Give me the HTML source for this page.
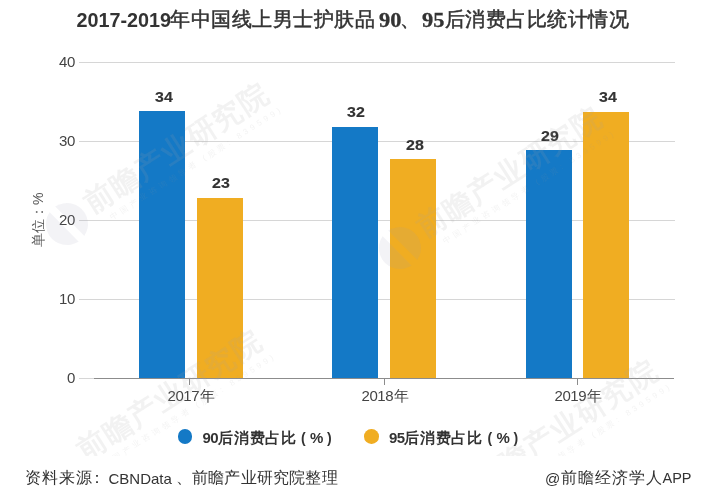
<!DOCTYPE html>
<html><head><meta charset="utf-8">
<style>
*{margin:0;padding:0;box-sizing:border-box}
html,body{width:717px;height:500px;background:#fff;overflow:hidden}
body{position:relative;font-family:"Liberation Sans",sans-serif;color:#333}
.a{position:absolute;white-space:nowrap;line-height:1}
.t{font-weight:bold;color:#333}
.tc{font-size:19.5px;font-weight:400;color:#333;letter-spacing:0.5px;-webkit-text-stroke:0.5px #333}
.grid{position:absolute;height:1px;background:#d6d6d6}
.axis{position:absolute;left:94px;width:580px;height:1px;background:#8c8c8c;top:378px}
.tick{position:absolute;width:1px;height:7px;background:#8c8c8c;top:378px}
.yl{position:absolute;font-size:15px;color:#444;line-height:1;text-align:right;width:40px;left:35px;letter-spacing:-0.3px}
.bar{position:absolute}
.b{background:#1479c6}
.o{background:#f0ad22}
.vl{position:absolute;font-size:14px;font-weight:bold;color:#333;line-height:1;width:40px;text-align:center;transform:scaleX(1.14);-webkit-text-stroke:0.15px #333}
.xl{position:absolute;font-size:15px;color:#444;line-height:1;top:388px}
.xl .d{letter-spacing:-0.45px;margin-right:1px}
.dot{position:absolute;width:14.6px;height:14.6px;border-radius:50%}
.lg{position:absolute;font-weight:bold;color:#333;line-height:1}
.ft{position:absolute;color:#333;line-height:1;z-index:7}
.unit{position:absolute;font-size:14px;color:#555;line-height:1;transform-origin:0 0;transform:rotate(-90deg)}
</style></head><body><div id="wrap" style="position:absolute;left:0;top:0;width:717px;height:500px;background:#fff;filter:blur(0.4px)">



<!-- title -->
<div class="a t" style="left:76.5px;top:10.5px;font-size:19.8px">2017-2019</div>
<div class="a tc" style="left:170px;top:9.5px">年中国线上男士护肤品</div>
<div class="a t" style="left:379.3px;top:9.5px;font-size:20px;font-family:'Liberation Serif',serif;transform:scaleX(1.12);transform-origin:0 0;-webkit-text-stroke:0.3px #333">90</div>
<div class="a tc" style="left:400px;top:9.5px">、</div>
<div class="a t" style="left:422px;top:9.5px;font-size:20px;font-family:'Liberation Serif',serif;transform:scaleX(1.12);transform-origin:0 0;-webkit-text-stroke:0.3px #333">95</div>
<div class="a tc" style="left:444.5px;top:9.5px">后消费占比统计情况</div>

<!-- grid -->
<div class="grid" style="left:79px;width:596px;top:62px"></div>
<div class="grid" style="left:79px;width:596px;top:141px"></div>
<div class="grid" style="left:79px;width:596px;top:220px"></div>
<div class="grid" style="left:79px;width:596px;top:299px"></div>
<div class="grid" style="left:79px;width:16px;top:378px"></div>
<div class="axis"></div>
<div class="tick" style="left:189px"></div>
<div class="tick" style="left:384px"></div>
<div class="tick" style="left:577px"></div>

<!-- y labels -->
<div class="yl" style="top:54px">40</div>
<div class="yl" style="top:133px">30</div>
<div class="yl" style="top:212px">20</div>
<div class="yl" style="top:290.5px">10</div>
<div class="yl" style="top:369.5px">0</div>

<div class="unit" style="left:31px;top:247px">单位：%</div>

<!-- bars -->
<div class="bar b" style="left:139px;width:46px;top:111px;height:267px"></div>
<div class="bar o" style="left:197px;width:46px;top:198px;height:180px"></div>
<div class="bar b" style="left:332px;width:46px;top:127px;height:251px"></div>
<div class="bar o" style="left:390px;width:46px;top:159px;height:219px"></div>
<div class="bar b" style="left:526px;width:46px;top:150px;height:228px"></div>
<div class="bar o" style="left:583px;width:46px;top:112px;height:266px"></div>

<!-- value labels -->
<div class="vl" style="left:143.6px;top:89.7px">34</div>
<div class="vl" style="left:200.9px;top:176.3px">23</div>
<div class="vl" style="left:336.0px;top:105.3px">32</div>
<div class="vl" style="left:395.2px;top:137.5px">28</div>
<div class="vl" style="left:530.4px;top:128.9px">29</div>
<div class="vl" style="left:587.7px;top:90.3px">34</div>

<!-- x labels -->
<div class="xl" style="left:167.5px"><span class="d">2017</span>年</div>
<div class="xl" style="left:361.5px"><span class="d">2018</span>年</div>
<div class="xl" style="left:554.5px"><span class="d">2019</span>年</div>

<svg class="wmsvg" width="717" height="500" viewBox="0 0 717 500" style="position:absolute;left:0;top:0;z-index:5">
<defs><mask id="lm" maskUnits="userSpaceOnUse" x="-80" y="-60" width="120" height="120"><rect x="-80" y="-60" width="120" height="120" fill="#fff"/><rect x="-30.5" y="-35" width="8" height="60" fill="#000" transform="rotate(-12 -26.5 -5)"/></mask><g id="wmt">


<text x="0" y="0" font-family="Liberation Sans, sans-serif" font-size="29" font-weight="bold" fill="#a0a0a0" fill-opacity="0.14" letter-spacing="1.5">前瞻产业研究院</text>
<text x="14" y="16" font-family="Liberation Sans, sans-serif" font-size="8" fill="#a0a0a0" fill-opacity="0.12" letter-spacing="3.5">中国产业咨询领导者 (股票: 839599)</text>
</g>
<g id="wm"><circle mask="url(#lm)" cx="-26.5" cy="-5" r="21" fill="#9aa0b4" fill-opacity="0.12"/><use href="#wmt"/></g></defs>
<use href="#wm" transform="translate(92 214) rotate(-32.6)"/>
<use href="#wmt" transform="translate(85 461) rotate(-32.6)"/>
<use href="#wm" transform="translate(425 238) rotate(-32.6)"/>
<use href="#wm" transform="translate(481 491) rotate(-32.6)"/>
</svg>
<!-- legend -->
<div class="dot b" style="left:177.9px;top:429.1px"></div>
<div class="lg" style="left:202.5px;top:429.5px;font-size:15px;letter-spacing:-0.6px">90</div>
<div class="lg" style="left:218px;top:430px;font-size:15px;letter-spacing:0.8px">后消费占比</div>
<div class="lg" style="left:301px;top:431px;font-size:14px">(</div>
<div class="lg" style="left:310px;top:429.5px;font-size:15px">%</div>
<div class="lg" style="left:327px;top:431px;font-size:14px">)</div>

<div class="dot o" style="left:364.2px;top:429.1px"></div>
<div class="lg" style="left:389px;top:429.5px;font-size:15px;letter-spacing:-0.6px">95</div>
<div class="lg" style="left:404px;top:430px;font-size:15px;letter-spacing:0.8px">后消费占比</div>
<div class="lg" style="left:487.5px;top:431px;font-size:14px">(</div>
<div class="lg" style="left:496.5px;top:429.5px;font-size:15px">%</div>
<div class="lg" style="left:513.5px;top:431px;font-size:14px">)</div>

<!-- footer -->
<div style="position:absolute;left:0;top:456px;width:717px;height:44px;background:#fff;z-index:6"></div>
<div class="ft" style="left:24.5px;top:469.5px;font-size:16px;letter-spacing:1.2px">资料来源</div>
<div class="ft" style="left:88.5px;top:469.5px;font-size:16px">：</div>
<div class="ft" style="left:108.5px;top:471px;font-size:15px">CBNData</div>
<div class="ft" style="left:176px;top:469.5px;font-size:16px">、</div>
<div class="ft" style="left:192px;top:469.5px;font-size:16px;letter-spacing:0.2px">前瞻产业研究院整理</div>
<div class="ft" style="left:545px;top:471px;font-size:15px">@</div>
<div class="ft" style="left:561px;top:469.5px;font-size:16px;letter-spacing:1.1px">前瞻经济学人</div>
<div class="ft" style="left:662.5px;top:471px;font-size:14.5px">APP</div>
</div></body></html>
